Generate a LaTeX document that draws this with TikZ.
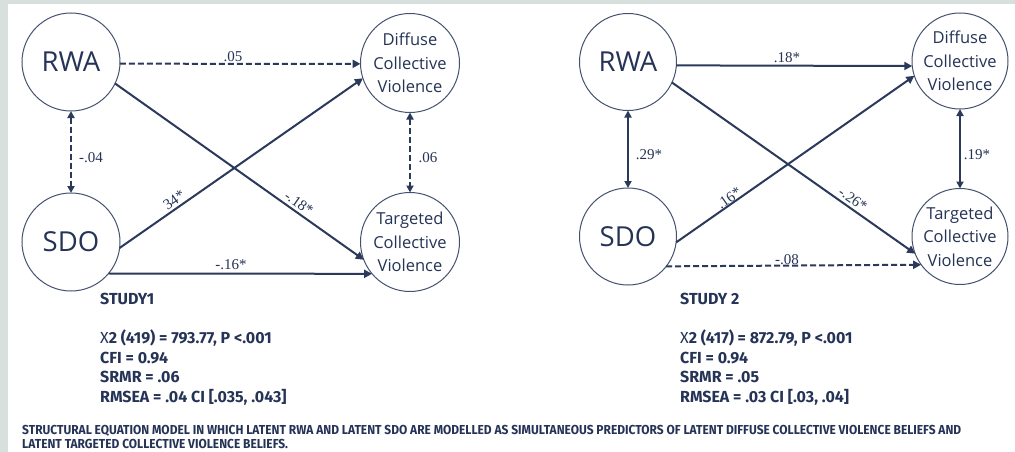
\documentclass[tikz,border=0pt]{standalone}
\usepackage{fontspec}
\setmainfont{Liberation Serif}
\newfontfamily\osans{Open Sans}
\newfontfamily\statfont{Fira Sans}
\newfontfamily\captfont[FakeStretch=0.92]{Fira Sans}
\usetikzlibrary{arrows.meta}
\definecolor{navy}{HTML}{253356}
\definecolor{lineblue}{HTML}{2B3A5A}
\definecolor{ringblue}{HTML}{45526F}
\definecolor{bggray}{HTML}{D8E0DE}
\begin{document}
\begin{tikzpicture}[x=1pt,y=-1pt,
  latent/.style={circle,draw=ringblue,line width=1pt,inner sep=0pt,outer sep=0pt,text=navy,align=center},
  bigtxt/.style={font=\osans\fontsize{27.5}{30}\selectfont},
  smalltxt/.style={font=\osans\fontsize{16.5}{23.5}\selectfont},
  path/.style={draw=lineblue,line width=2pt,-{Triangle[length=8pt,width=8pt]}},
  dpath/.style={path,dash pattern=on 6pt off 3pt},
  cov/.style={draw=lineblue,line width=2pt,{Triangle[length=7pt,width=7pt]}-{Triangle[length=7pt,width=7pt]}},
  dcov/.style={cov,dash pattern=on 6pt off 3pt},
  lab/.style={text=navy,inner sep=0pt,font=\fontsize{15}{15}\selectfont},
  stat/.style={text=navy,inner sep=0pt,align=left,anchor=base west,font=\statfont\bfseries\fontsize{16}{19.5}\selectfont},
  capt/.style={text=navy,inner sep=0pt,align=left,anchor=base west,font=\captfont\bfseries\fontsize{13}{14.5}\selectfont}
]
\useasboundingbox (0,0) rectangle (1015,452);
\fill[bggray] (0,0) rectangle (1015,452);
\fill[white] (8,4) rectangle (1015,452);

% ---------- Study 1 ----------
\node[latent,bigtxt,minimum size=98pt] (rwa1) at (71,62) {RWA};
\node[latent,bigtxt,minimum size=98pt] (sdo1) at (71,242) {SDO};
\node[latent,smalltxt,minimum size=99pt] (dif1) at (410,63) {Diffuse\\Collective\\Violence};
\node[latent,smalltxt,minimum size=99pt] (tar1) at (410,242) {Targeted\\Collective\\Violence};

\draw[dpath] (rwa1.-2) -- (dif1.181);
\draw[path] (rwa1.-26.6) -- (tar1.201.8);
\draw[path] (sdo1.-7) -- (dif1.198.4);
\draw[path] (sdo1.-40) -- (tar1.220);
\draw[dcov] (rwa1.south) -- (sdo1.north);
\draw[dcov] (dif1.south) -- (tar1.north);

\node[lab] (l105) at (233,57) {.05};
\node[lab,rotate=-35] (l118) at (299,203) {-.18*};
\node[lab,rotate=35] (l134) at (174,200) {34*};
\node[lab] (l116) at (231,265) {-.16*};
\node[lab] (l104) at (91,158) {-.04};
\node[lab] (l106) at (428,158) {.06};

\node[stat] (st1) at (100,402) {STUDY1\\[19.5pt]{\mdseries X}2 (419) = 793.77, P <.001\\CFI = 0.94\\SRMR = .06\\RMSEA = .04 CI [.035, .043]};

% ---------- Study 2 ----------
\node[latent,bigtxt,minimum size=97pt] (rwa2) at (628,62) {RWA};
\node[latent,bigtxt,minimum size=97pt] (sdo2) at (628,236.5) {SDO};
\node[latent,smalltxt,minimum size=96pt] (dif2) at (960,61) {Diffuse\\Collective\\Violence};
\node[latent,smalltxt,minimum size=96pt] (tar2) at (960,236.5) {Targeted\\Collective\\Violence};

\draw[path] (rwa2.-4.7) -- (dif2.186);
\draw[path] (rwa2.-25.5) -- (tar2.201);
\draw[path] (sdo2.-7.4) -- (dif2.198.4);
\draw[dpath] (sdo2.-38) -- (tar2.216.6);
\draw[cov] (rwa2.south) -- (sdo2.north);
\draw[cov] (dif2.south) -- (tar2.north);

\node[lab] (l218) at (787,58) {.18*};
\node[lab,rotate=-35] (l226) at (853,199) {-.26*};
\node[lab,rotate=35] (l216) at (729,198) {.16*};
\node[lab] (l208) at (787,260) {-.08};
\node[lab] (l229) at (649,155) {.29*};
\node[lab] (l219) at (977,155) {.19*};

\node[stat] (st2) at (680,402) {STUDY 2\\[19.5pt]{\mdseries X}2 (417) = 872.79, P <.001\\CFI = 0.94\\SRMR = .05\\RMSEA = .03 CI [.03, .04]};

% ---------- Caption ----------
\node[capt] (cap) at (22,448.5) {STRUCTURAL EQUATION MODEL IN WHICH LATENT RWA AND LATENT SDO ARE MODELLED AS SIMULTANEOUS PREDICTORS OF LATENT DIFFUSE COLLECTIVE VIOLENCE BELIEFS AND\\LATENT TARGETED COLLECTIVE VIOLENCE BELIEFS.};
\end{tikzpicture}
\end{document}
